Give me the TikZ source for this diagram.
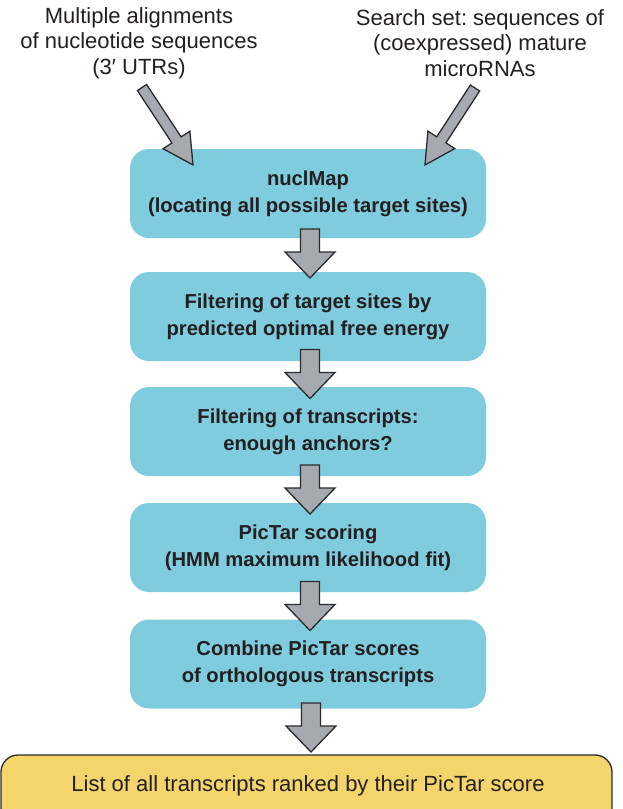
\documentclass[tikz,border=0pt]{standalone}
\usepackage{fontspec}
\setmainfont{Liberation Sans}
\usetikzlibrary{calc}
\frenchspacing
\definecolor{boxcyan}{HTML}{7FCCDE}
\definecolor{boxyellow}{HTML}{F3D56B}
\definecolor{arrgray}{HTML}{A7A9B1}
\definecolor{edgedark}{HTML}{2B2B2B}
\definecolor{txt}{HTML}{231F20}
\tikzset{
  stepbox/.style={rectangle, rounded corners=19pt, fill=boxcyan, draw=none,
    minimum width=356pt, minimum height=89pt, align=center, text=txt,
    font=\fontsize{20.2}{27}\selectfont\bfseries, inner sep=0pt},
  resultbox/.style={rectangle, rounded corners=17pt, fill=boxyellow, draw=edgedark,
    line width=1.3pt, minimum width=611pt, minimum height=70pt, text=txt,
    font=\fontsize{22}{25.5}\selectfont, inner sep=0pt},
  toplabel/.style={align=center, text=txt, font=\fontsize{22}{25.5}\selectfont, inner sep=0pt},
  blockarrow/.style={fill=arrgray, draw=edgedark, line width=1.3pt, line join=miter},
}
% #1 tail, #2 tip, #3 shaft half width, #4 head half width, #5 head length
\newcommand\blockarr[5]{%
  \coordinate (hb) at ($(#2)!#5!(#1)$);
  \draw[blockarrow] ($(#1)!#3!90:(#2)$) -- ($(hb)!#3!90:(#2)$) -- ($(hb)!#4!90:(#2)$)
    -- (#2) -- ($(hb)!#4!-90:(#2)$) -- ($(hb)!#3!-90:(#2)$) -- ($(#1)!#3!-90:(#2)$) -- cycle;}
\begin{document}
\begin{tikzpicture}[x=1pt,y=-1pt]
\useasboundingbox (0,0) rectangle (623,809);

\node[toplabel] (lab1) at (139,43) {Multiple alignments\\of nucleotide sequences\\(3′ UTRs)};
\node[toplabel] (lab2) at (480,43) {Search set: sequences of\\(coexpressed) mature\\microRNAs};

\node[stepbox] (b1) at (308,193.5) {nuclMap\\(locating all possible target sites)};
\node[stepbox] (b2) at (308,316.5) {Filtering of target sites by\\predicted optimal free energy};
\node[stepbox] (b3) at (308,431.5) {Filtering of transcripts:\\enough anchors?};
\node[stepbox] (b4) at (308,547.5) {PicTar scoring\\(HMM maximum likelihood fit)};
\node[stepbox] (b5) at (308,664) {Combine PicTar scores\\of orthologous transcripts};
\node[resultbox] (b6) at (306.5,790) {};
\node[text=txt, font=\fontsize{22}{25.5}\selectfont, inner sep=0pt] (b6t) at (308,786)
  {List of all transcripts ranked by their PicTar score};

% diagonal input arrows
\coordinate (l1s) at (142,87.5);
\coordinate (l1e) at (193,165);
\coordinate (l2s) at (475,88);
\coordinate (l2e) at (425,165);
\blockarr{l1s}{l1e}{5.5pt}{16pt}{30pt}
\blockarr{l2s}{l2e}{5.5pt}{16pt}{30pt}

% down arrows
\coordinate (d1s) at (310,229);   \coordinate (d1e) at (310,278);
\coordinate (d2s) at (310,349.5); \coordinate (d2e) at (310,398.5);
\coordinate (d3s) at (310,465);   \coordinate (d3e) at (310,514);
\coordinate (d4s) at (310,581.5); \coordinate (d4e) at (310,630.5);
\coordinate (d5s) at (311,703);   \coordinate (d5e) at (311,752);
\foreach \i in {1,...,5}{\blockarr{d\i s}{d\i e}{9.5pt}{25pt}{26pt}}
\end{tikzpicture}
\end{document}
